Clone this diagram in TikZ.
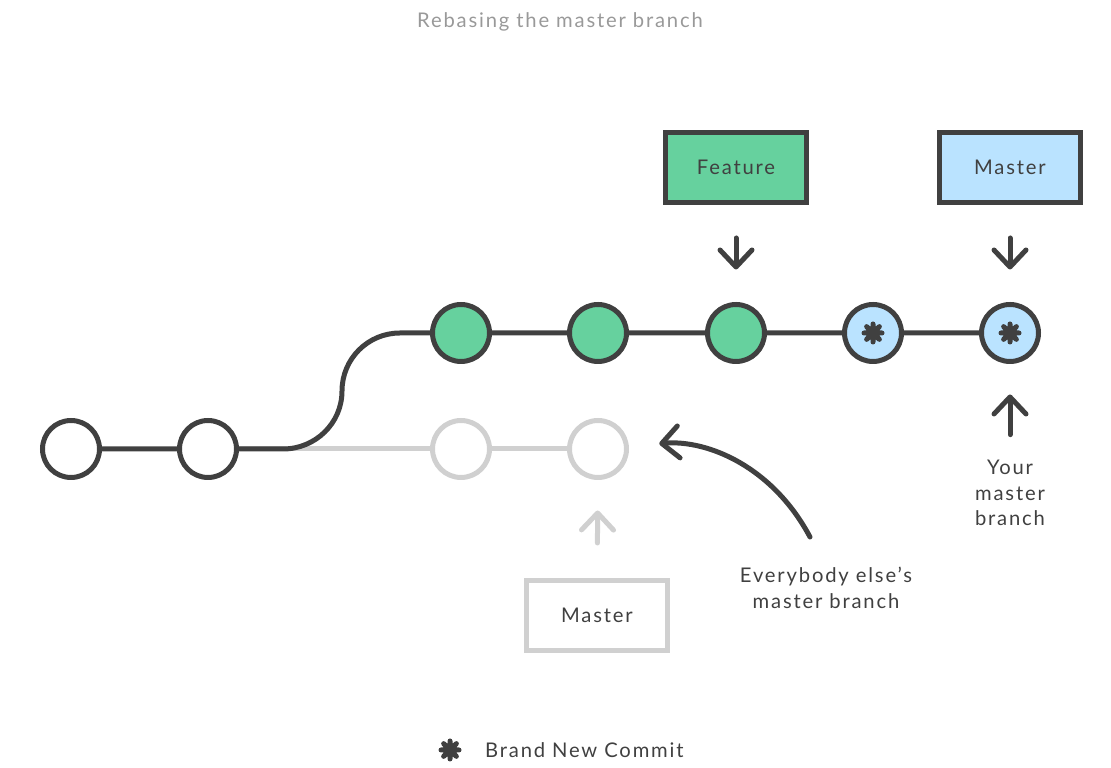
\documentclass[tikz,border=0pt]{standalone}
\usepackage{fontspec}
\setmainfont[LetterSpace=9]{Lato}
\usepackage{tikz}
\usetikzlibrary{shapes,arrows.meta}
\definecolor{ink}{HTML}{404040}
\definecolor{faded}{HTML}{D0D0D0}
\definecolor{featgreen}{HTML}{66D19E}
\definecolor{mastblue}{HTML}{BAE3FF}
\definecolor{titlegray}{HTML}{999999}
\tikzstyle{commit}=[circle, draw=ink, line width=1mm, fill=white,
    minimum size=1.14cm, inner sep=0pt]
\tikzstyle{feature} = [commit, fill=featgreen]
\tikzstyle{rebased} = [commit, fill=mastblue]
\tikzstyle{old} = [commit, draw=faded]
\tikzstyle{branch}=[draw=ink, line width=1mm, text=ink,
    minimum width=2.82cm, minimum height=1.4cm]
\tikzstyle{history}=[draw=ink, line width=1mm]
\tikzstyle{pointer}=[draw=ink, line width=1mm, line cap=round,
    -{Straight Barb[length=3.4mm,width=6.4mm,round]}]
\tikzstyle{caption}=[text=ink, align=center]
\newcommand{\newcommitmark}[1]{%
  \draw [ink, line width=1mm, line cap=round]
    (#1) +(0:0.18) -- +(180:0.18) (#1) +(45:0.18) -- +(225:0.18)
    (#1) +(90:0.18) -- +(270:0.18) (#1) +(135:0.18) -- +(315:0.18);
  \fill [ink] (#1) circle (0.14);}

\begin{document}
\begin{tikzpicture}[font=\fontsize{11.5pt}{14.7pt}\selectfont]
\useasboundingbox (0,0) rectangle (22.22,15.36);
% Title
\path (11.2,14.92) node [text=titlegray] (title) {Rebasing the master branch};
% Shared commits
\path (1.42,6.38) node [commit] (c1) {};
\path (4.16,6.38) node [commit] (c2) {};
% Everybody else's commits
\path (9.22,6.38) node [old] (o1) {};
\path (11.96,6.38) node [old] (o2) {};
% Feature commits
\path (9.22,8.7) node [feature] (f1) {};
\path (11.96,8.7) node [feature] (f2) {};
\path (14.72,8.7) node [feature] (f3) {};
% Brand new commits
\path (17.46,8.7) node [rebased] (r1) {};
\path (20.2,8.7) node [rebased] (r2) {};
\newcommitmark{r1}
\newcommitmark{r2}
% Branches
\path (14.72,12.01) node [branch, fill=featgreen] (feat) {Feature};
\path (20.2,12.01) node [branch, fill=mastblue] (mast) {Master};
\path (11.94,3.05) node [branch, draw=faded] (oldmast) {Master};
% Captions
\path (20.2,5.5) node [caption] (yours) {Your\\master\\branch};
\path (16.52,3.6) node [caption] (others) {Everybody else’s\\master branch};
% fork
\coordinate (fork) at (5.66,6.38);
\coordinate (bend) at (6.84,7.54);
\coordinate (merge) at (8.0,8.7);
\coordinate (elsetail) at (16.2,4.62);
% lines
\draw [history, draw=faded] (c2) -- (o1) -- (o2);
\draw [history] (c1) -- (c2) -- (fork) to[out=0,in=-90] (bend)
    to[out=90,in=180] (merge) -- (f1) -- (f2) -- (f3) -- (r1) -- (r2);
% arrows
\draw [pointer, shorten <=0.66cm, shorten >=0.65cm] (feat) -- (f3);
\draw [pointer, shorten <=0.66cm, shorten >=0.65cm] (mast) -- (r2);
\draw [pointer, shorten <=0.38cm, shorten >=0.61cm] (yours) -- (r2);
\draw [pointer, draw=faded, shorten <=0.7cm, shorten >=0.61cm] (oldmast) -- (o2);
\draw [pointer, shorten >=0.61cm] (elsetail) to[out=118,in=5] (o2);
% Legend
\coordinate (legendmark) at (9.0,0.36);
\newcommitmark{legendmark}
\path (9.58,0.36) node [caption, anchor=west] (legend) {Brand New Commit};
\end{tikzpicture}
\end{document}
